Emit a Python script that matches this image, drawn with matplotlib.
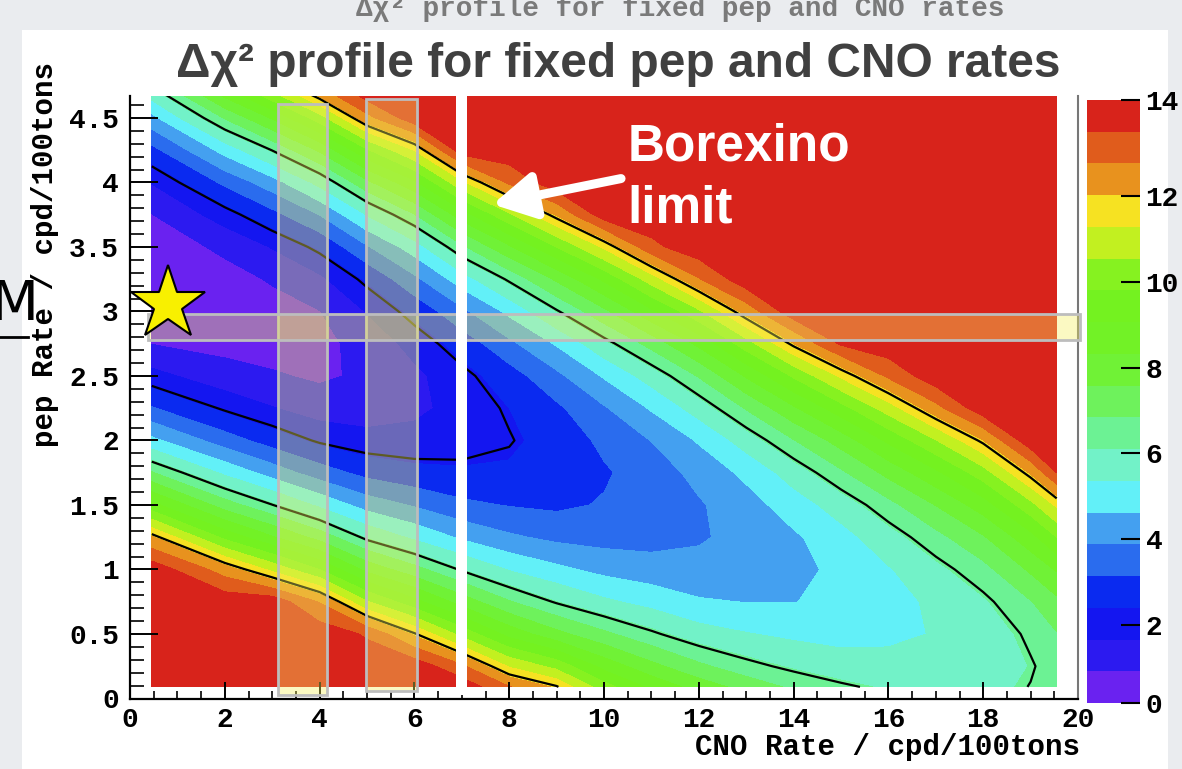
import numpy as np
import matplotlib.pyplot as plt
from matplotlib.colors import ListedColormap, BoundaryNorm
from matplotlib.patches import Rectangle
from matplotlib.lines import Line2D
from matplotlib.ticker import MultipleLocator

# delta chi2 map
# one list per CNO rate column, values listed from low to high pep rate
cno_rate = [0.46, 2, 3, 4, 5, 6, 7, 8, 9, 10, 11, 12, 13, 14, 15, 16, 17, 18, 19, 19.55]
pep_rate = [0.09, 0.25, 0.5, 0.75, 1.0, 1.25, 1.5, 1.75, 2.0, 2.25,
            2.5, 2.75, 3.0, 3.25, 3.5, 3.75, 4.0, 4.25, 4.5, 4.7]
dchi2_by_cno = [
    [29.9, 27.0, 22.7, 18.8, 15.2, 12.1, 9.3, 6.9, 4.8, 3.2, 1.9, 0.9, 0.4, 0.2, 0.4, 0.9, 1.7, 2.9, 4.4, 5.8],
    [25.5, 22.9, 19.0, 15.5, 12.4, 9.6, 7.2, 5.2, 3.5, 2.2, 1.2, 0.7, 0.5, 0.6, 1.1, 2.0, 3.3, 4.9, 6.9, 8.7],
    [23.8, 21.2, 17.5, 14.1, 11.1, 8.4, 6.2, 4.3, 2.8, 1.7, 1.0, 0.6, 0.6, 1.0, 1.7, 2.9, 4.3, 6.2, 8.4, 10.5],
    [22.2, 19.6, 16.0, 12.7, 9.8, 7.3, 5.2, 3.5, 2.2, 1.3, 0.8, 0.7, 0.9, 1.5, 2.5, 3.9, 5.6, 7.7, 10.2, 12.4],
    [18.9, 16.6, 13.4, 10.6, 8.1, 6.0, 4.3, 2.9, 1.9, 1.3, 1.05, 1.2, 1.7, 2.5, 3.8, 5.4, 7.4, 9.7, 12.5, 14.9],
    [17.0, 14.9, 11.9, 9.3, 7.1, 5.2, 3.8, 2.6, 1.9, 1.5, 1.5, 1.9, 2.6, 3.7, 5.0, 6.8, 8.9, 11.3, 14.1, 16.6],
    [14.8, 12.9, 10.3, 8.0, 6.1, 4.5, 3.3, 2.5, 2.0, 1.9, 2.1, 2.7, 3.7, 5.0, 6.7, 8.7, 11.1, 13.9, 17.0, 19.7],
    [12.8, 11.2, 8.8, 6.9, 5.3, 4.0, 3.1, 2.5, 2.25, 2.4, 2.8, 3.7, 4.8, 6.3, 8.2, 10.4, 12.9, 15.8, 19.1, 21.9],
    [11.9, 10.3, 7.8, 6.1, 4.8, 3.7, 3.0, 2.7, 2.7, 3.0, 3.7, 4.7, 6.1, 7.7, 9.8, 12.1, 14.9, 17.9, 21.3, 24.2],
    [10.1, 8.8, 7.0, 5.5, 4.4, 3.6, 3.2, 3.05, 3.3, 3.8, 4.7, 5.9, 7.4, 9.2, 11.4, 13.9, 16.8, 20.0, 23.5, 26.5],
    [8.9, 7.8, 6.3, 5.1, 4.2, 3.6, 3.4, 3.5, 3.9, 4.7, 5.7, 7.1, 8.9, 10.9, 13.3, 16.0, 19.0, 22.4, 26.0, 29.2],
    [8.0, 7.0, 5.7, 4.7, 4.1, 3.8, 3.8, 4.1, 4.7, 5.7, 6.9, 8.5, 10.4, 12.7, 15.2, 18.1, 21.3, 24.8, 28.6, 31.9],
    [7.3, 6.4, 5.4, 4.6, 4.2, 4.1, 4.3, 4.8, 5.7, 6.9, 8.4, 10.2, 12.3, 14.8, 17.6, 20.7, 24.2, 27.9, 32.0, 35.5],
    [6.7, 6.0, 5.2, 4.6, 4.4, 4.5, 5.0, 5.7, 6.8, 8.2, 9.9, 12.0, 14.4, 17.1, 20.1, 23.5, 27.2, 31.2, 35.5, 39.2],
    [6.3, 5.7, 5.1, 4.8, 4.8, 5.1, 5.7, 6.7, 7.9, 9.5, 11.4, 13.6, 16.1, 18.9, 22.1, 25.5, 29.3, 33.4, 37.7, 41.5],
    [6.0, 5.6, 5.2, 5.1, 5.3, 5.8, 6.6, 7.8, 9.2, 10.9, 12.9, 15.2, 17.8, 20.7, 23.9, 27.5, 31.3, 35.4, 39.8, 43.6],
    [5.9, 5.6, 5.4, 5.5, 5.9, 6.6, 7.6, 8.9, 10.5, 12.5, 14.7, 17.2, 20.0, 23.2, 26.6, 30.3, 34.4, 38.7, 43.4, 47.3],
    [5.9, 5.75, 5.73, 6.0, 6.6, 7.5, 8.7, 10.2, 12.0, 14.1, 16.6, 19.3, 22.3, 25.7, 29.3, 33.3, 37.5, 42.1, 46.9, 51.0],
    [6.2, 6.12, 6.3, 6.8, 7.7, 8.8, 10.3, 12.1, 14.2, 16.7, 19.4, 22.5, 25.9, 29.6, 33.7, 38.0, 42.7, 47.7, 53.0, 57.5],
    [6.4, 6.44, 6.8, 7.4, 8.4, 9.8, 11.4, 13.5, 15.8, 18.5, 21.5, 24.8, 28.5, 32.6, 36.9, 41.6, 46.6, 52.0, 57.7, 62.5],
]

band_edges = [0, 0.92, 1.66, 2.40, 3.14, 3.88, 4.62, 5.36, 6.10, 6.84, 7.58,
              8.32, 9.06, 9.80, 10.54, 11.28, 12.02, 12.76, 13.50, 14]
band_colors = ['#6a22f0', '#2c1af0', '#1416f0', '#0a2af0', '#2a6cee', '#44a0f0',
               '#62f0f8', '#72f2c8', '#6cf294', '#6ef25c', '#70f236', '#72f226',
               '#74f220', '#86f220', '#c2f020', '#f6e222', '#e8921e', '#e05c1c',
               '#d8231b']
cl_levels = [2.3, 6.18, 11.83]

# fixed-rate strips: (x0, x1, y0, y1)
strips = [(3.12, 4.16, 0.03, 4.61), (4.98, 6.05, 0.06, 4.645), (0.39, 20.04, 2.78, 2.98)]
limit_bar = (6.87, 7.12)
star_pt = (0.80, 3.06)

x_ticks = [0, 2, 4, 6, 8, 10, 12, 14, 16, 18, 20]
x_tick_labels = ['0', '2', '4', '6', '8', '10', '12', '14', '16', '18', '20']
y_ticks = [0, 0.5, 1, 1.5, 2, 2.5, 3, 3.5, 4, 4.5]
y_tick_labels = ['0', '0.5', '1', '1.5', '2', '2.5', '3', '3.5', '4', '4.5']
cbar_ticks = [0, 2, 4, 6, 8, 10, 12, 14]

title = 'Δχ² profile for fixed pep and CNO rates'

plt.rcParams['font.family'] = ['Liberation Mono', 'DejaVu Sans']
plt.rcParams['font.weight'] = 'bold'

W, H = 1182, 769
fig = plt.figure(figsize=(W / 100, H / 100), dpi=100, facecolor='#eaecef')
fig.patches.append(Rectangle((22 / W, 0), (1168 - 22) / W, 1 - 30 / H,
                             transform=fig.transFigure, facecolor='white',
                             edgecolor='none', zorder=-10))

ax = fig.add_axes([130 / W, 1 - 698.5 / H, (1078 - 130) / W, (698.5 - 96) / H])
ax.set_facecolor('white')

X, Y = np.meshgrid(cno_rate, pep_rate)
Z = np.array(dchi2_by_cno).T
cmap = ListedColormap(band_colors)
norm = BoundaryNorm(band_edges, cmap.N)
cs = ax.contourf(X, Y, np.clip(Z, 0, 13.99), levels=band_edges, cmap=cmap, norm=norm)
ax.contour(X, Y, Z, levels=cl_levels, colors='black', linewidths=1.6)

for x0, x1, y0, y1 in strips:
    ax.add_patch(Rectangle((x0, y0), x1 - x0, y1 - y0, facecolor=(0.97, 0.94, 0.38, 0.38),
                           edgecolor='#bdbdbd', lw=2, zorder=4, clip_on=False))
ax.add_patch(Rectangle((limit_bar[0], 0.03), limit_bar[1] - limit_bar[0], 4.7,
                       facecolor='white', edgecolor='none', zorder=5, clip_on=False))

ax.plot(*star_pt, marker='*', ms=56, mfc='#f8f000', mec='black', mew=1.5,
        clip_on=False, zorder=8)

ax.annotate('', xy=(7.65, 3.83), xytext=(10.36, 4.03),
            arrowprops=dict(arrowstyle='-|>,head_length=0.9,head_width=0.5',
                            color='white', lw=6.5, mutation_scale=28,
                            shrinkA=0, shrinkB=0), zorder=9)
ax.text(10.5, 4.17, 'Borexino', color='white', fontsize=37, fontweight='bold',
        family='Liberation Sans', va='baseline', zorder=9)
ax.text(10.5, 3.69, 'limit', color='white', fontsize=37, fontweight='bold',
        family='Liberation Sans', va='baseline', zorder=9)

ax.set_xlim(0, 20)
ax.set_ylim(0, 4.67)
ax.set_xticks(x_ticks)
ax.set_xticklabels(x_tick_labels)
ax.set_yticks(y_ticks)
ax.set_yticklabels(y_tick_labels)
ax.xaxis.set_minor_locator(MultipleLocator(0.5))
ax.yaxis.set_minor_locator(MultipleLocator(0.1))
ax.tick_params(axis='x', which='major', direction='in', length=12, width=1.4, pad=6, labelsize=20)
ax.tick_params(axis='x', which='minor', direction='in', length=6, width=1.2)
ax.tick_params(axis='y', which='major', direction='in', length=20, width=1.4, pad=8, labelsize=20)
ax.tick_params(axis='y', which='minor', direction='in', length=10, width=1.2)
ax.spines['top'].set_visible(False)
ax.spines['right'].set_color('#777777')
ax.spines['right'].set_linewidth(1.5)
for s in ('left', 'bottom'):
    ax.spines[s].set_linewidth(1.6)

cax = fig.add_axes([1087 / W, 1 - 703 / H, (1140 - 1087) / W, (703 - 100) / H])
cb = fig.colorbar(cs, cax=cax, ticks=cbar_ticks)
cb.outline.set_visible(False)
cb.minorticks_off()
cax.tick_params(direction='in', length=14, width=1.5, pad=4, labelsize=20)

fig.text(1080 / W, 1 - 747 / H, 'CNO Rate / cpd/100tons', ha='right', va='center', fontsize=21)
fig.text(45 / W, 1 - 62 / H, 'pep Rate / cpd/100tons', ha='center', va='top',
         rotation=90, fontsize=21)

fig.text(618 / W, 1 - 77 / H, title, ha='center', va='baseline', fontsize=34.5,
         fontweight='bold', family='Liberation Sans', color='#404040')
fig.text(680 / W, 1 - 16 / H, title, ha='center', va='baseline', fontsize=20,
         color='#7a7a7a')

fig.text(14 / W, 1 - 305 / H, 'M', ha='center', va='center', fontsize=40,
         fontweight='normal', family='DejaVu Sans', color='black')
fig.add_artist(Line2D([0, 28 / W], [1 - 337 / H, 1 - 337 / H], color='black', lw=2,
                      transform=fig.transFigure))

fig.savefig('out.png', dpi=100, facecolor=fig.get_facecolor())
